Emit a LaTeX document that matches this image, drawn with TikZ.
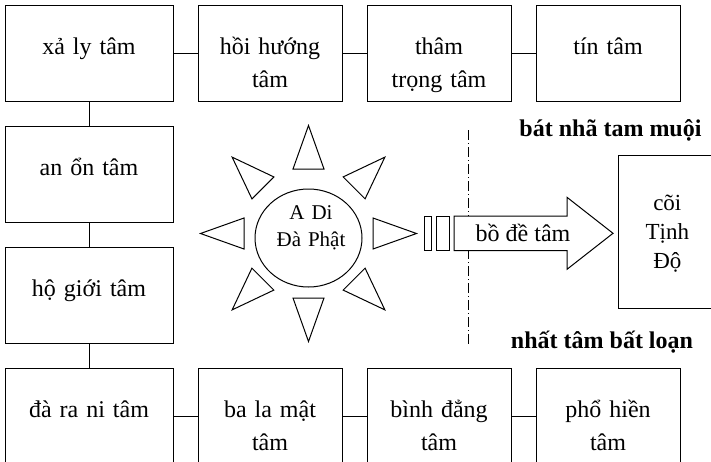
\documentclass[tikz,border=0pt]{standalone}
\usepackage{fontspec}
\setmainfont{Liberation Serif}
\usetikzlibrary{positioning,shapes.geometric}
\tikzset{
  tambox/.style={draw, line width=1pt, align=center, inner sep=0pt,
    text width=144pt, text height=49pt, text depth=47pt,
    font=\fontsize{24}{33}\selectfont},
  widebox/.style={tambox, text width=168pt},
  link/.style={line width=1pt},
  ray/.style={draw, line width=1pt, line join=miter, fill=white},
  bar/.style={draw, line width=1pt, fill=white, inner sep=0pt, minimum height=34.7pt},
  cutline/.style={line width=0.8pt, dash pattern=on 10pt off 3pt on 1pt off 3pt},
  boldlabel/.style={font=\fontsize{24}{28}\selectfont\bfseries, inner sep=0pt, anchor=base}
}

\begin{document}
\begin{tikzpicture}[x=1pt, y=-1pt]
    \useasboundingbox (0,0) rectangle (711,461);
    % khung chung quanh
    \node[widebox] (xaly) at (89,53.5) {xả ly tâm};
    \node[tambox, right=24pt of xaly] (hoihuong) {hồi hướng\\tâm};
    \node[tambox, right=24pt of hoihuong] (thamtrong) {thâm\\trọng tâm};
    \node[tambox, right=24pt of thamtrong] (tintam) {tín tâm};
    \node[widebox, below=24pt of xaly] (anon) {an ổn tâm};
    \node[widebox, below=24pt of anon] (hogioi) {hộ giới tâm};
    \node[widebox, below=24pt of hogioi] (daran) {đà ra ni tâm};
    \node[tambox, right=24pt of daran] (balamat) {ba la mật\\tâm};
    \node[tambox, right=24pt of balamat] (binhdang) {bình đẳng\\tâm};
    \node[tambox, right=24pt of binhdang] (phohien) {phổ hiền\\tâm};
    \foreach \a/\b in {xaly/hoihuong, hoihuong/thamtrong, thamtrong/tintam,
        xaly/anon, anon/hogioi, hogioi/daran,
        daran/balamat, balamat/binhdang, binhdang/phohien}
      \draw[link] (\a) -- (\b);

    % mat troi
    \node[draw, ellipse, line width=1pt, inner sep=0pt,
      minimum width=107pt, minimum height=98pt] (phat) at (308.5,238) {};
    \node[anchor=base, align=center, inner sep=0pt, text width=90pt,
      font=\fontsize{21}{27}\selectfont] (phatname) at (311,219) {A Di\\Đà Phật};
    \coordinate (rays) at (308.5,233.5);
    \begin{scope}[shift={(rays)}]
      \foreach \ang in {0,45,...,315}
        \draw[ray, rotate=\ang] (64.5,-15.5) -- (108,0) -- (64.5,15.5) -- cycle;
    \end{scope}

    % duong gach cham
    \coordinate (cuttop) at (468.3,130);
    \coordinate (cutbot) at (468.3,345);
    \draw[cutline] (cuttop) -- (cutbot);

    \node[bar, minimum width=7.4pt] (bar1) at (428,233.35) {};
    \node[bar, minimum width=12.3pt] (bar2) at (442.85,233.35) {};
    \draw[ray] (454,216) -- (567,216) -- (567,197.3) -- (613,233.3)
      -- (567,269.3) -- (567,250.7) -- (454,250.7) -- cycle;
    \node[anchor=base, inner sep=0pt, font=\fontsize{24}{28}\selectfont] (bode)
      at (523,241.7) {bồ đề tâm};

    \node[draw, line width=1pt, align=center, inner sep=0pt,
      text width=98pt, text height=54.3pt, text depth=98.3pt,
      font=\fontsize{23}{29}\selectfont] (tinhdo) at (667.3,232) {cõi\\Tịnh\\Độ};

    \node[boldlabel] (bannha) at (610.5,136.7) {bát nhã tam muội};
    \node[boldlabel] (nhattam) at (602,348) {nhất tâm bất loạn};
  \end{tikzpicture}
\end{document}
